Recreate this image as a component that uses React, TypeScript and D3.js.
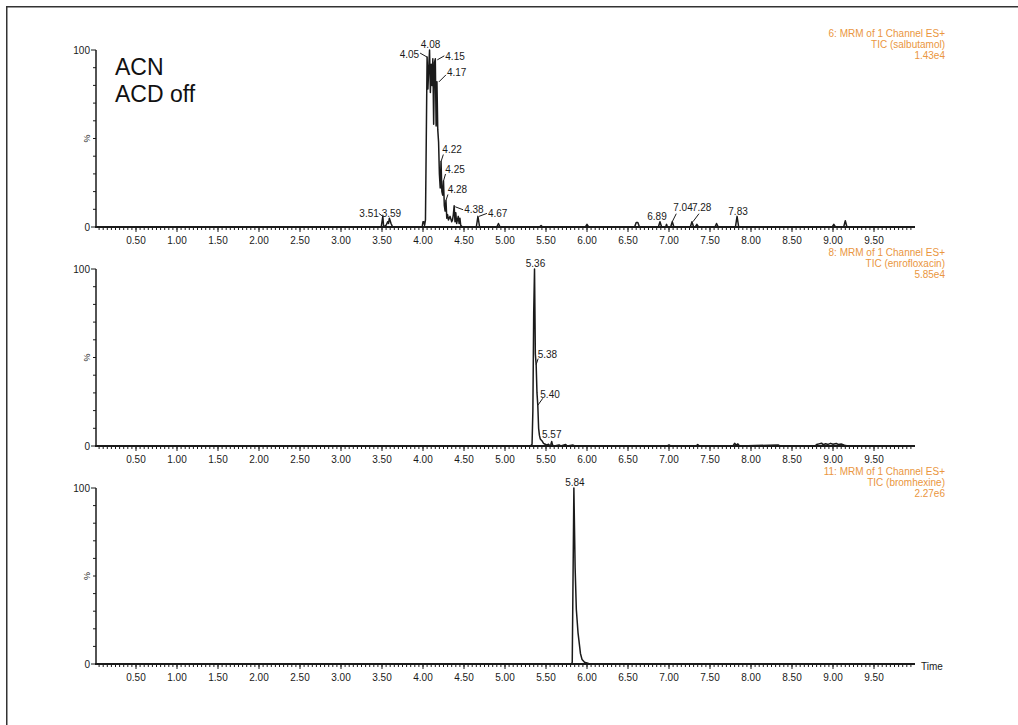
import React from "react";
import * as d3 from "d3";

// ---------------- DATA ----------------
const majorTicks = [0.5, 1, 1.5, 2, 2.5, 3, 3.5, 4, 4.5, 5, 5.5, 6, 6.5, 7, 7.5, 8, 8.5, 9, 9.5];
const majorTickLabels = ["0.50", "1.00", "1.50", "2.00", "2.50", "3.00", "3.50", "4.00", "4.50", "5.00", "5.50", "6.00", "6.50", "7.00", "7.50", "8.00", "8.50", "9.00", "9.50"];

// Panel 1: salbutamol
const salbutamolTime = [0, 3.49, 3.51, 3.52, 3.55, 3.57, 3.58, 3.59, 3.61, 3.63, 3.99, 4.0, 4.01, 4.02, 4.03, 4.05, 4.06, 4.07, 4.08, 4.09, 4.1, 4.11, 4.12, 4.13, 4.14, 4.15, 4.16, 4.17, 4.18, 4.19, 4.2, 4.21, 4.22, 4.23, 4.24, 4.25, 4.26, 4.27, 4.28, 4.29, 4.3, 4.31, 4.33, 4.35, 4.36, 4.37, 4.38, 4.39, 4.4, 4.41, 4.43, 4.44, 4.45, 4.46, 4.48, 4.65, 4.67, 4.69, 4.9, 4.92, 4.94, 5.42, 5.44, 5.46, 5.98, 6.0, 6.02, 6.58, 6.6, 6.61, 6.62, 6.64, 6.87, 6.89, 6.91, 6.96, 6.97, 6.98, 7.02, 7.04, 7.06, 7.26, 7.28, 7.3, 7.32, 7.34, 7.36, 7.56, 7.58, 7.6, 7.81, 7.83, 7.85, 8.99, 9.01, 9.03, 9.13, 9.15, 9.17, 10];
const salbutamolPct = [0, 0, 6, 0, 1, 3, 2, 5, 2, 0, 0, 3, 3, 1, 4, 96, 78, 90, 100, 76, 92, 80, 95, 58, 93, 95, 57, 82, 55, 48, 30, 22, 37, 20, 18, 26, 12, 9, 15, 5, 7, 4, 6, 3, 4, 7, 12, 3, 8, 2, 6, 2, 5, 1, 0, 0, 6, 0, 0, 2, 0, 0, 0.8, 0, 0, 1.5, 0, 0, 2.5, 2.5, 2.5, 0, 0, 3, 0, 0, 1.5, 0, 0, 3, 0, 0, 3, 0, 0, 1.5, 0, 0, 2, 0, 0, 6, 0, 0, 1.5, 0, 0, 3.5, 0, 0];
const salbutamolPeaks = [3.51, 3.59, 4.05, 4.08, 4.15, 4.17, 4.22, 4.25, 4.28, 4.38, 4.67, 6.89, 7.04, 7.28, 7.83];

// Panel 2: enrofloxacin
const enrofloxacinTime = [0, 5.31, 5.33, 5.34, 5.35, 5.36, 5.37, 5.38, 5.39, 5.4, 5.41, 5.42, 5.43, 5.45, 5.47, 5.49, 5.51, 5.53, 5.55, 5.56, 5.57, 5.58, 5.6, 5.66, 5.68, 5.74, 5.76, 5.83, 5.85, 6.98, 7.0, 7.02, 7.33, 7.35, 7.37, 7.78, 7.8, 7.82, 7.84, 7.86, 8.33, 8.35, 8.78, 8.8, 8.83, 8.86, 8.88, 8.91, 8.94, 8.97, 9.0, 9.04, 9.07, 9.1, 9.14, 9.18, 10];
const enrofloxacinPct = [0, 0, 1, 20, 75, 100, 52, 46, 30, 23, 10, 6, 4, 3, 1.5, 1, 0.5, 1, 0, 1, 2.5, 0.5, 0, 0.6, 0, 0.8, 0, 0.5, 0, 0, 0.6, 0, 0, 0.8, 0, 0, 1.5, 0.5, 1.2, 0, 0.6, 0, 0, 0.8, 1.2, 1.6, 0.8, 1.3, 0.9, 1.5, 1, 1.4, 0.8, 1.1, 0.5, 0, 0];
const enrofloxacinPeaks = [5.36, 5.38, 5.4, 5.57];

// Panel 3: bromhexine
const bromhexineTime = [0, 5.81, 5.82, 5.84, 5.855, 5.87, 5.89, 5.9, 5.92, 5.94, 5.97, 6.02, 6.1, 10];
const bromhexinePct = [0, 0, 1, 100, 55, 31, 18, 14, 6, 2.5, 1, 0.3, 0, 0];
const bromhexinePeaks = [5.84];

const headerLines1 = ["6: MRM of 1 Channel ES+", "TIC (salbutamol)", "1.43e4"];
const headerLines2 = ["8: MRM of 1 Channel ES+", "TIC (enrofloxacin)", "5.85e4"];
const headerLines3 = ["11: MRM of 1 Channel ES+", "TIC (bromhexine)", "2.27e6"];

// ---------------- LAYOUT ----------------
type LabelLayout = { anchor: "start" | "middle" | "end"; tx: number; ty: number; leader?: [number, number, number, number] };
const labelLayout: Record<string, LabelLayout> = {
  "3.51": { anchor: "end", tx: -4, ty: 1, leader: [-4, -3, 0, 0] },
  "3.59": { anchor: "middle", tx: 2, ty: -1 },
  "4.05": { anchor: "end", tx: -8, ty: 1, leader: [-7, -4, 0, 0] },
  "4.08": { anchor: "middle", tx: 1, ty: -2 },
  "4.15": { anchor: "start", tx: 10, ty: 1, leader: [2, 1, 9, -3] },
  "4.17": { anchor: "start", tx: 10, ty: -6, leader: [2, 0, 9, -7] },
  "4.22": { anchor: "start", tx: 1.3, ty: -9, leader: [0, 0, 2.3, -7] },
  "4.25": { anchor: "start", tx: 1.8, ty: -8, leader: [0, 0, 2, -7] },
  "4.28": { anchor: "start", tx: 1.7, ty: -7, leader: [0, 0, 2, -6] },
  "4.38": { anchor: "start", tx: 10, ty: 7, leader: [1, 1, 9, 4] },
  "4.67": { anchor: "start", tx: 10, ty: 1, leader: [1, 0, 9, -3] },
  "6.89": { anchor: "middle", tx: -3, ty: -2 },
  "7.04": { anchor: "start", tx: 1, ty: -11, leader: [0, 0, 4, -8] },
  "7.28": { anchor: "start", tx: 0, ty: -11, leader: [1, 0, 7, -8] },
  "7.83": { anchor: "middle", tx: 1, ty: -1 },
  "5.36": { anchor: "middle", tx: 1, ty: -2 },
  "5.38": { anchor: "start", tx: 1.5, ty: -7, leader: [0, 0, 2, -6] },
  "5.40": { anchor: "start", tx: 2.5, ty: -7, leader: [0, 0, 5, -7] },
  "5.57": { anchor: "middle", tx: 0, ty: -4 },
  "5.84": { anchor: "middle", tx: 1, ty: -2 },
};

const FONT = "'Liberation Sans', Arial, sans-serif";
const ORANGE = "#ea9640";
const INK = "#1a1a1a";

const x = d3.scaleLinear().domain([0, 10]).range([95, 915]);
const minorTicks = d3.range(1, 200).map((i) => i * 0.05);

type PanelProps = {
  top: number;
  bottom: number;
  time: number[];
  pct: number[];
  peaks: number[];
  header: string[];
  showTime?: boolean;
};

function Panel({ top, bottom, time, pct, peaks, header, showTime }: PanelProps) {
  const y = d3.scaleLinear().domain([0, 100]).range([bottom, top]);
  const pts: [number, number][] = time.map((t, i) => [t, pct[i]]);
  const line = d3
    .line<[number, number]>()
    .x((d) => x(d[0]))
    .y((d) => y(d[1]))(pts) as string;
  const yTicks = d3.range(0, 101, 10);
  const axisX0 = x(0) + 1;
  return (
    <g>
      {/* y axis */}
      <line x1={axisX0} x2={axisX0} y1={y(100)} y2={y(0)} stroke={INK} strokeWidth={1.5} />
      {yTicks.map((v) => (
        <line key={v} x1={axisX0 - (v === 0 || v === 100 ? 5 : 3)} x2={axisX0} y1={y(v)} y2={y(v)} stroke={INK} strokeWidth={1} />
      ))}
      <text x={axisX0 - 6} y={y(100) + 3.5} textAnchor="end" fontSize={10} fontFamily={FONT} fill={INK}>100</text>
      <text x={axisX0 - 6} y={y(0) + 3.5} textAnchor="end" fontSize={10} fontFamily={FONT} fill={INK}>0</text>
      <text transform={`translate(${axisX0 - 6},${y(50)}) rotate(-90)`} textAnchor="middle" fontSize={9} fontFamily={FONT} fill={INK}>%</text>

      {/* trace */}
      <path d={line} fill="none" stroke={INK} strokeWidth={1.5} strokeLinejoin="round" />

      {/* x axis */}
      <line x1={x(0)} x2={x(10)} y1={y(0)} y2={y(0)} stroke={INK} strokeWidth={2} />
      {minorTicks.map((t, i) => (
        <line key={"m" + i} x1={x(t)} x2={x(t)} y1={y(0)} y2={y(0) + 3} stroke={INK} strokeWidth={1} />
      ))}
      {majorTicks.map((t, i) => (
        <g key={"M" + i}>
          <line x1={x(t)} x2={x(t)} y1={y(0)} y2={y(0) + 5} stroke={INK} strokeWidth={1} />
          <text x={x(t)} y={y(0) + 17} textAnchor="middle" fontSize={10} fontFamily={FONT} fill={INK}>
            {majorTickLabels[i]}
          </text>
        </g>
      ))}
      {showTime && (
        <text x={x(10) + 6} y={y(0) + 5.5} fontSize={10} fontFamily={FONT} fill={INK}>Time</text>
      )}

      {/* peak labels */}
      {peaks.map((t) => {
        let idx = 0;
        let best = Infinity;
        time.forEach((tt, i) => {
          const d = Math.abs(tt - t);
          if (d < best - 1e-9) {
            best = d;
            idx = i;
          }
        });
        const label = t.toFixed(2);
        const lay = labelLayout[label] || { anchor: "middle", tx: 0, ty: -2 };
        const px = x(t);
        const py = y(pct[idx]);
        return (
          <g key={label}>
            {lay.leader && (
              <line
                x1={px + lay.leader[0]}
                y1={py + lay.leader[1]}
                x2={px + lay.leader[2]}
                y2={py + lay.leader[3]}
                stroke={INK}
                strokeWidth={1}
              />
            )}
            <text x={px + lay.tx} y={py + lay.ty} textAnchor={lay.anchor} fontSize={10} fontFamily={FONT} fill={INK}>
              {label}
            </text>
          </g>
        );
      })}

      {/* header */}
      {header.map((s, i) => (
        <text key={i} x={945} y={top - 12.7 + i * 11} textAnchor="end" fontSize={10} fontFamily={FONT} fill={ORANGE}>
          {s}
        </text>
      ))}
    </g>
  );
}

export default function App() {
  return (
    <svg
      width={1018}
      height={725}
      style={{ position: "absolute", left: 0, top: 0, background: "#fff" }}
    >
      <rect x={0} y={0} width={1018} height={725} fill="#fff" />
      <rect x={6.75} y={6.75} width={1030} height={740} fill="none" stroke="#333" strokeWidth={1.5} />
      <text x={115} y={75} fontSize={23} fontFamily={FONT} fill="#111">ACN</text>
      <text x={115} y={101.5} fontSize={23} fontFamily={FONT} fill="#111">ACD off</text>
      <Panel top={50} bottom={227} time={salbutamolTime} pct={salbutamolPct} peaks={salbutamolPeaks} header={headerLines1} />
      <Panel top={269} bottom={446} time={enrofloxacinTime} pct={enrofloxacinPct} peaks={enrofloxacinPeaks} header={headerLines2} />
      <Panel top={488} bottom={664} time={bromhexineTime} pct={bromhexinePct} peaks={bromhexinePeaks} header={headerLines3} showTime />
    </svg>
  );
}
